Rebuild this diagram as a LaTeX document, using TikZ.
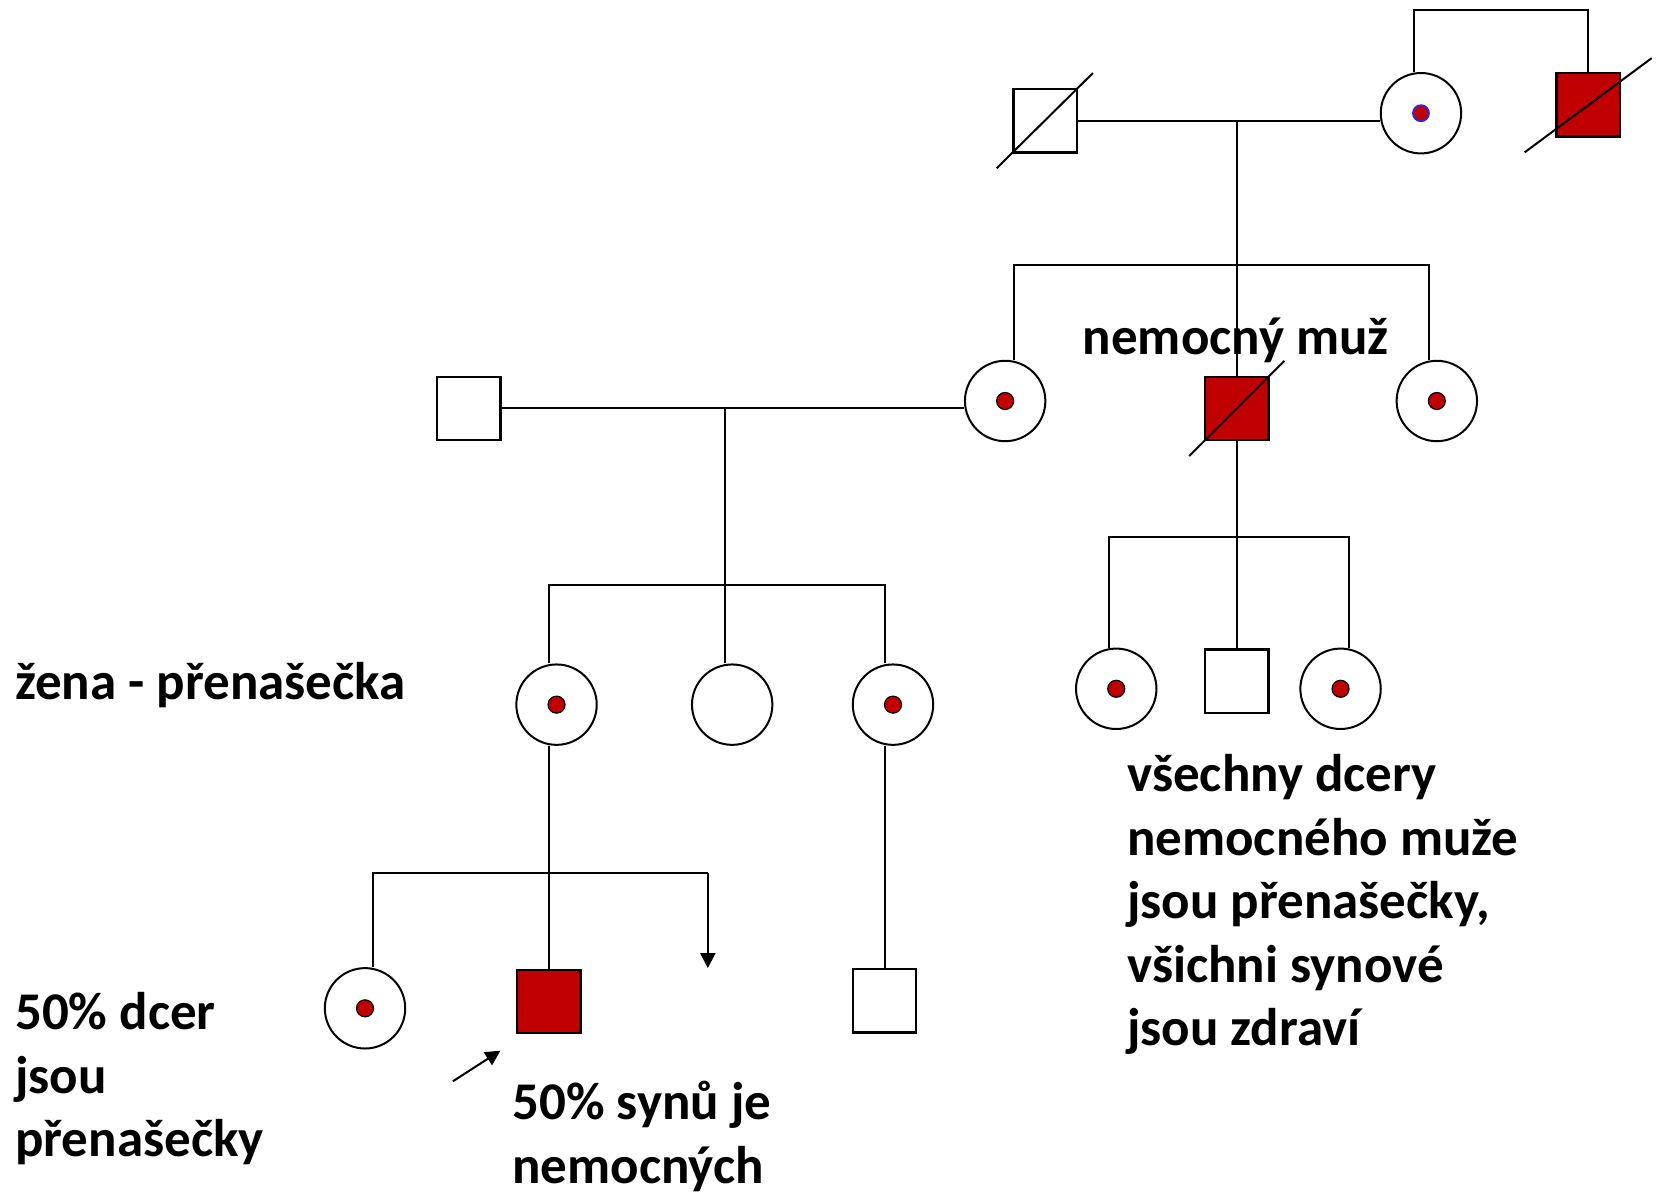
\documentclass[tikz,border=0pt]{standalone}
\usepackage{fontspec}
\setmainfont{Carlito}
\usetikzlibrary{arrows.meta}
\definecolor{darkred}{RGB}{192,0,0}
\definecolor{dotblue}{RGB}{40,40,220}
\tikzset{
  female/.style={circle, draw, line width=1pt, minimum size=40.2pt, inner sep=0pt, fill=white},
  male/.style={rectangle, draw, line width=1.2pt, minimum size=31.7pt, inner sep=0pt, fill=white},
  affected/.style={male, fill=darkred},
  dot/.style={circle, draw, line width=0.6pt, fill=darkred, minimum size=8.5pt, inner sep=0pt},
  bluedot/.style={dot, draw=dotblue, line width=0.9pt, minimum size=8pt},
  conn/.style={line width=1pt},
  dec/.style={line width=1pt},
  ptr/.style={line width=1pt, -{Triangle[length=7.5pt, width=7.5pt]}},
  lbl/.style={anchor=base west, inner sep=0pt, font=\fontsize{26.5pt}{31.8pt}\selectfont\bfseries}
}
\begin{document}
\begin{tikzpicture}[x=0.529pt, y=-0.529pt]
\useasboundingbox (0,0) rectangle (1568,1127);

% ---------- generation I ----------
\node[male]     (f1) at (988,114) {};
\node[female]   (m0) at (1343,107) {};
\node[bluedot]  (m0d) at (m0.center) {};
\node[affected] (g1) at (1501,99) {};

% ---------- generation II ----------
\node[male]     (h2) at (443,386) {};
\node[female]   (c2) at (950,379) {};
\node[dot]      (c2d) at (c2.center) {};
\node[affected] (s1) at (1169,386) {};
\node[female]   (c3) at (1358,379) {};
\node[dot]      (c3d) at (c3.center) {};

% ---------- generation III ----------
\node[female]   (c4) at (526,666) {};
\node[dot]      (c4d) at (c4.center) {};
\node[female]   (c5) at (692,666) {};
\node[female]   (c6) at (844,666) {};
\node[dot]      (c6d) at (c6.center) {};
\node[female]   (c7) at (1055,651) {};
\node[dot]      (c7d) at (c7.center) {};
\node[male]     (s3) at (1169,644) {};
\node[female]   (c8) at (1267,651) {};
\node[dot]      (c8d) at (c8.center) {};

% ---------- generation IV ----------
\node[female]   (c9) at (345,953) {};
\node[dot]      (c9d) at (c9.center) {};
\node[affected] (s4) at (518.5,946.5) {};
\node[male]     (s5) at (836,946) {};

% ---------- deceased marks ----------
\draw[dec] ([shift={(-46,45)}]f1.center) -- ([shift={(45,-45)}]f1.center);
\draw[dec] ([shift={(-60,45)}]g1.center) -- ([shift={(60,-44)}]g1.center);
\draw[dec] ([shift={(-45,45)}]s1.center) -- ([shift={(45,-45)}]s1.center);

% ---------- coordinates ----------
\coordinate (b1) at (1336,9);
\coordinate (b2) at (1501,9);
\coordinate (d1) at (1169,114);
\coordinate (j1) at (958,250);
\coordinate (j2) at (1351,250);
\coordinate (d2) at (685,386);
\coordinate (k1) at (519,553);
\coordinate (k2) at (836,553);
\coordinate (l1) at (1048,508);
\coordinate (l2) at (1275,508);
\coordinate (n1) at (353,825);
\coordinate (n2) at (669,825);
\coordinate (n3) at (669,915);
\coordinate (a1) at (428,1022);
\coordinate (a2) at (473,993);

% ---------- connectors ----------
\draw[conn] (b1 |- m0.north) -- (b1) -- (b2) -- (g1.north);
\draw[conn] (f1.east) -- (m0.west |- f1.east);
\draw[conn] (d1) -- (s1.north);
\draw[conn] (j1 |- c2.north) -- (j1) -- (j2) -- (j2 |- c3.north);

\draw[conn] (h2.east) -- (c2.west |- h2.east);
\draw[conn] (d2) -- (d2 |- c5.north);
\draw[conn] (k1 |- c4.north) -- (k1) -- (k2) -- (k2 |- c6.north);

\draw[conn] (s1.south) -- (s3.north);
\draw[conn] (l1 |- c7.north) -- (l1) -- (l2) -- (l2 |- c8.north);

\draw[conn] (s4.north |- c4.south) -- (s4.north);
\draw[conn] (n1 |- c9.north) -- (n1) -- (n2);
\draw[ptr] (n2) -- (n3);
\draw[conn] (s5.north |- c6.south) -- (s5.north);
\draw[ptr] (a1) -- (a2);

% ---------- labels ----------
\node[lbl] (t1) at (1023,335) {nemocný muž};
\node[lbl] (t2) at (14,661) {žena - přenašečka};
\node[lbl] (t3) at (14,973) {\begin{tabular}[t]{@{}l@{}}50\% dcer\\jsou\\přenašečky\end{tabular}};
\node[lbl] (t4) at (484,1058) {\begin{tabular}[t]{@{}l@{}}50\% synů je\\nemocných\end{tabular}};
\node[lbl] (t5) at (1065,748) {\begin{tabular}[t]{@{}l@{}}všechny dcery\\nemocného muže\\jsou přenašečky,\\všichni synové\\jsou zdraví\end{tabular}};
\end{tikzpicture}
\end{document}
